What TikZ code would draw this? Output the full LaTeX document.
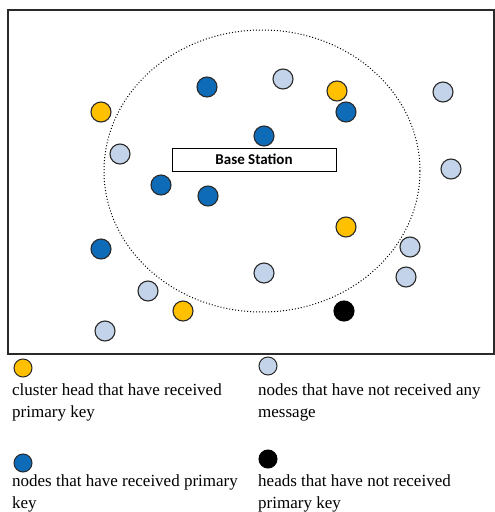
\documentclass[tikz,border=0pt]{standalone}
\usepackage{fontspec}
\setmainfont{Liberation Serif}
\newfontfamily\labelfont{Carlito}
\definecolor{keyblue}{HTML}{0E6BB8}
\definecolor{headyellow}{HTML}{FFC000}
\definecolor{idleblue}{HTML}{C3D3E9}
\definecolor{rimgrey}{HTML}{2A2A2A}
\tikzset{
  sensor/.style={circle, draw=rimgrey, line width=1.1pt, minimum size=20pt, inner sep=0pt},
  keynode/.style={sensor, fill=keyblue},
  headnode/.style={sensor, fill=headyellow},
  idlenode/.style={sensor, fill=idleblue},
  deadhead/.style={sensor, fill=black, draw=black},
  legdot/.style={circle, draw=rimgrey, line width=1pt, minimum size=18pt, inner sep=0pt},
  legtext/.style={anchor=base west, inner sep=0pt, align=left, font=\fontsize{17}{22}\selectfont},
}
\begin{document}
\begin{tikzpicture}[x=1pt, y=-1pt]
\useasboundingbox (0,0) rectangle (495,512);
% field frame
\draw[line width=1.1pt, draw=rimgrey] (8,10) rectangle (494,354);
% radio range of the base station
\draw[dotted, line width=1pt] (262,171) ellipse [x radius=158, y radius=141];
% base station
\node[draw, line width=0.9pt, minimum width=164pt, minimum height=23pt, inner sep=0pt,
      font=\labelfont\bfseries\fontsize{15}{17}\selectfont] (bs) at (254,159.5) {Base Station};
% sensors
\node[keynode]  (n1)  at (207,87)  {};
\node[idlenode] (n2)  at (283,79)  {};
\node[headnode] (n3)  at (337,91)  {};
\node[idlenode] (n4)  at (443,92)  {};
\node[headnode] (n5)  at (101,112) {};
\node[keynode]  (n6)  at (346,112) {};
\node[keynode]  (n7)  at (264,136) {};
\node[idlenode] (n8)  at (120,154) {};
\node[idlenode] (n9)  at (451,169) {};
\node[keynode]  (n10) at (161,185) {};
\node[keynode]  (n11) at (208,196) {};
\node[headnode] (n12) at (346,227) {};
\node[keynode]  (n13) at (101,249) {};
\node[idlenode] (n14) at (410,247) {};
\node[idlenode] (n15) at (264,273) {};
\node[idlenode] (n16) at (406,277) {};
\node[idlenode] (n17) at (148,291) {};
\node[headnode] (n18) at (183,311) {};
\node[deadhead] (n19) at (344,311) {};
\node[idlenode] (n20) at (105,331) {};
% legend (the base anchor of a two-line node sits on its last line)
\node[legdot, fill=headyellow] (l1) at (23,368) {};
\node[legtext] (t1) at (12,417) {cluster head that have received\\primary key};
\node[legdot, fill=idleblue] (l2) at (268,366) {};
\node[legtext] (t2) at (258,417) {nodes that have not received any\\message};
\node[legdot, fill=keyblue] (l3) at (23,463) {};
\node[legtext] (t3) at (12,508) {nodes that have received primary\\key};
\node[legdot, fill=black, draw=black] (l4) at (268,459) {};
\node[legtext] (t4) at (258,508) {heads that have not received\\primary key};
\end{tikzpicture}
\end{document}
